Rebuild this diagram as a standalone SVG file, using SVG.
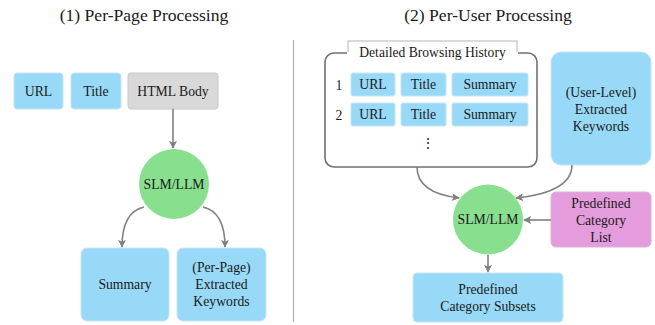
<svg xmlns="http://www.w3.org/2000/svg" width="655" height="325" viewBox="0 0 655 325">
<style>
text{font-family:"Liberation Serif","Times New Roman",serif;fill:#1a1a1a;text-anchor:middle}
.t{font-size:17.6px}
.n{font-size:13.7px}
.s{font-size:13.6px}
.blue{fill:#97d9f6;stroke:#c5e6f3;stroke-width:1}
.gray{fill:#d9d9d9;stroke:#c8c8c8;stroke-width:1}
.pink{fill:#e49cdc;stroke:#d9b3d6;stroke-width:1}
.green{fill:#88e08f}
.c{fill:none;stroke:#808080;stroke-width:1.6}
</style>
<defs>
<marker id="a" viewBox="0 0 10 10" refX="9" refY="5" markerWidth="5" markerHeight="5" orient="auto">
<path d="M0,0 L10,5 L0,10 L2.5,5 z" fill="#808080"/>
</marker>
</defs>
<rect width="655" height="325" fill="#fff"/>
<g font-family="Liberation Serif, serif">
<text class="t" x="144" y="21">(1) Per-Page Processing</text>
<text class="t" x="488" y="21">(2) Per-User Processing</text>
<line x1="293.5" y1="40" x2="293.5" y2="322" stroke="#b0b0b0" stroke-width="1.2"/>

<g id="p1-url"><rect class="blue" x="14" y="73" width="49" height="36" rx="3"/><text class="n" x="38.5" y="96">URL</text></g>
<g id="p1-title"><rect class="blue" x="71" y="73" width="50" height="36" rx="3"/><text class="n" x="96" y="96">Title</text></g>
<g id="p1-html"><rect class="gray" x="128" y="73" width="90" height="36" rx="3"/><text class="n" x="173" y="96">HTML Body</text></g>
<g id="p1-llm"><circle class="green" cx="174" cy="184" r="35"/><text class="n" x="174" y="189">SLM/LLM</text></g>
<g id="p1-summary"><rect class="blue" x="81" y="248" width="88" height="73" rx="6"/><text class="n" x="125" y="289">Summary</text></g>
<g id="p1-keywords"><rect class="blue" x="177" y="248" width="89" height="73" rx="6"/><text class="n" x="221.5" y="272">(Per-Page)</text><text class="n" x="221.5" y="289">Extracted</text><text class="n" x="221.5" y="306">Keywords</text></g>

<g id="history">
<rect x="325" y="53" width="212" height="114" rx="9" fill="#fff" stroke="#707070" stroke-width="1.6"/>
<rect x="348" y="41" width="169" height="14" fill="#fff" stroke="#b5b5b5" stroke-width="1"/>
<rect x="347" y="52" width="171" height="4" fill="#fff"/>
<text class="s" x="432.5" y="57">Detailed Browsing History</text>
<text class="n" x="339" y="90">1</text>
<rect class="blue" x="351" y="73" width="44" height="23" rx="2"/><text class="n" x="373" y="89">URL</text>
<rect class="blue" x="401" y="73" width="45" height="23" rx="2"/><text class="n" x="423.5" y="89">Title</text>
<rect class="blue" x="452" y="73" width="76" height="23" rx="2"/><text class="n" x="490" y="89">Summary</text>
<text class="n" x="339" y="120">2</text>
<rect class="blue" x="351" y="103" width="44" height="23" rx="2"/><text class="n" x="373" y="119">URL</text>
<rect class="blue" x="401" y="103" width="45" height="23" rx="2"/><text class="n" x="423.5" y="119">Title</text>
<rect class="blue" x="452" y="103" width="76" height="23" rx="2"/><text class="n" x="490" y="119">Summary</text>
<text class="n" x="428" y="148">⋮</text>
</g>
<g id="user-keywords"><rect class="blue" x="551" y="52" width="100" height="113" rx="10"/><text class="n" x="601" y="97">(User-Level)</text><text class="n" x="601" y="114">Extracted</text><text class="n" x="601" y="131">Keywords</text></g>
<g id="p2-llm"><circle class="green" cx="488" cy="219.5" r="35"/><text class="n" x="488" y="224">SLM/LLM</text></g>
<g id="category-list"><rect class="pink" x="551" y="192" width="100" height="55" rx="5"/><text class="n" x="601" y="208">Predefined</text><text class="n" x="601" y="225">Category</text><text class="n" x="601" y="242">List</text></g>
<g id="category-subsets"><rect class="blue" x="413" y="273" width="150" height="49" rx="4"/><text class="n" x="488" y="294">Predefined</text><text class="n" x="488" y="311">Category Subsets</text></g>
</g>
<g id="connectors">
<line class="c" x1="173" y1="109" x2="173" y2="148" marker-end="url(#a)"/>
<path class="c" d="M144,207 Q122,212 122,247" marker-end="url(#a)"/>
<path class="c" d="M203,207 Q225,212 225,247" marker-end="url(#a)"/>
<path class="c" d="M417,167 Q417,193 459,198" marker-end="url(#a)"/>
<path class="c" d="M572,165 Q572,192 516,198" marker-end="url(#a)"/>
<line class="c" x1="551" y1="220" x2="524" y2="220" marker-end="url(#a)"/>
<line class="c" x1="488" y1="255" x2="488" y2="272" marker-end="url(#a)"/>
</g>
</svg>
